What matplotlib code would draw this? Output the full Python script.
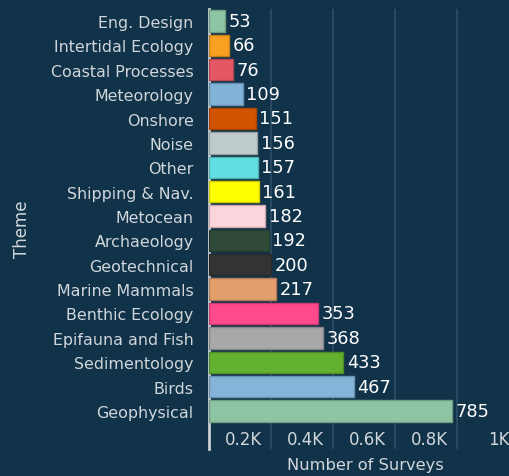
import matplotlib
matplotlib.use("Agg")
import matplotlib.pyplot as plt
import matplotlib.colors as mcolors
import numpy as np

themes = ["Eng. Design", "Intertidal Ecology", "Coastal Processes", "Meteorology",
          "Onshore", "Noise", "Other", "Shipping & Nav.", "Metocean", "Archaeology",
          "Geotechnical", "Marine Mammals", "Benthic Ecology", "Epifauna and Fish",
          "Sedimentology", "Birds", "Geophysical"]
surveys = [53, 66, 76, 109, 151, 156, 157, 161, 182, 192, 200, 217, 353, 368, 433, 467, 785]
colors = ["#8dc4a3", "#f7a021", "#e45865", "#82b4d9", "#d35400", "#c0cccc", "#62dfe0",
          "#ffff00", "#fcd4dc", "#2f4a38", "#333333", "#e49e6c", "#ff4a8d", "#a8a8a8",
          "#63b22f", "#84b5d9", "#8dc4a3"]
xticks = [200, 400, 600, 800, 1000]
xtick_labels = ["0.2K", "0.4K", "0.6K", "0.8K", "1K"]

BG = "#11334a"
TXT = "#d0d6da"
plt.rcParams['font.family'] = ['DejaVu Sans']

W, H = 510, 477
fig = plt.figure(figsize=(W / 100, H / 100), dpi=100, facecolor=BG)
x0, x1 = 209, 510
ytop, ybot = 10, 450
ax = fig.add_axes([x0 / W, 1 - ybot / H, (x1 - x0) / W, (ybot - ytop) / H], facecolor=BG)

pitch = (412 - 22) / 16.0
ax.set_xlim(0, 1000 * (x1 - x0) / 310.0)
ax.set_ylim(16 + (ybot - 412) / pitch, -(22 - ytop) / pitch)

y = np.arange(len(themes))
edges = [tuple(c * 0.8 for c in mcolors.to_rgb(col)) for col in colors]
ax.barh(y, surveys, height=0.88, color=colors, edgecolor=edges, linewidth=1, zorder=3)

for yi, v in zip(y, surveys):
    ax.annotate(str(v), (v, yi), xytext=(2.5, 0), textcoords="offset points",
                ha="left", va="center", color="white", fontsize=12.8, zorder=4)

for xv, lab in zip(xticks, xtick_labels):
    ax.axvline(xv, color="#2d4e66", linewidth=1.2, zorder=1)
    ax.annotate(lab, (xv, 16 + (440 - 412) / pitch),
                xytext=(-6.5, 0), textcoords="offset points", ha="right", va="center",
                color=TXT, fontsize=12, annotation_clip=False)

ax.set_xticks([])
ax.set_yticks(y)
ax.set_yticklabels(themes, color=TXT, fontsize=11.4)
ax.tick_params(axis="y", length=0, pad=11)

for s in ["top", "right", "bottom"]:
    ax.spines[s].set_visible(False)
ax.spines["left"].set_color("#c8d0d4")
ax.spines["left"].set_linewidth(2)

fig.text(365 / W, 1 - 466 / H, "Number of Surveys", color=TXT, fontsize=11.7,
         ha="center", va="center")
fig.text(22 / W, 1 - 229 / H, "Theme", color=TXT, fontsize=12, rotation=90,
         ha="center", va="center")

fig.savefig("out.png", dpi=100, facecolor=BG)
